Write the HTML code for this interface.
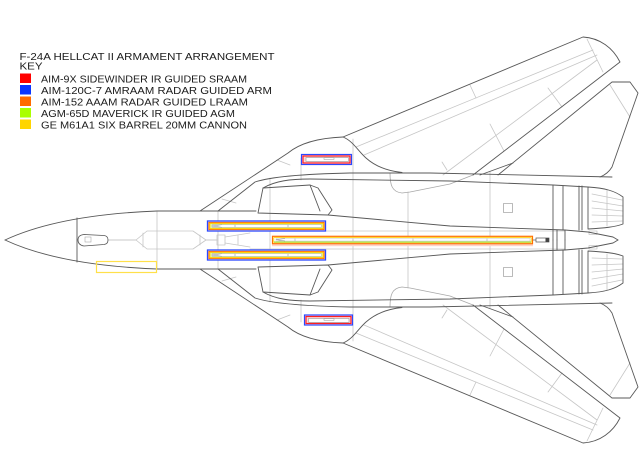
<!DOCTYPE html>
<html><head><meta charset="utf-8">
<style>
html,body{margin:0;padding:0;background:#fff;width:640px;height:454px;overflow:hidden}
svg{display:block}
text{font-family:"Liberation Sans",sans-serif;font-size:9.8px;fill:#1c1c1c}
</style></head>
<body>
<svg width="640" height="454" viewBox="0 0 640 454" xmlns="http://www.w3.org/2000/svg" xmlns:xlink="http://www.w3.org/1999/xlink">
<defs>
<g id="half" fill="none" stroke-linejoin="round" stroke-linecap="round">
  <!-- light panel lines -->
  <g stroke="#c6c6c6" stroke-width="0.8">
    <line x1="157" y1="211" x2="157" y2="240"/>
    <line x1="218" y1="211" x2="218" y2="240"/>
    <line x1="270" y1="178" x2="270" y2="240"/>
    <line x1="301" y1="158" x2="301" y2="180"/>
    <line x1="353" y1="139" x2="353" y2="240"/>
    <line x1="408" y1="192" x2="408" y2="240"/>
    <line x1="490" y1="172" x2="490" y2="240"/>
    <line x1="250" y1="231" x2="565" y2="231"/>
    <path d="M108,240 L136,240 L147,231 L193,231 L206,240 L217,240"/>
    <line x1="143" y1="233" x2="143" y2="240"/>
    <line x1="200" y1="235" x2="200" y2="240"/>
    <path d="M217,240 L217,235 L225,235 L225,240"/>
    <path d="M225,237 L250,233"/>
    <line x1="238" y1="235.5" x2="238" y2="240"/>
    <path d="M222,199 L236,203"/>
    <path d="M277,160 L290,165"/>
    <!-- wing panel lines -->
    <path d="M356,147 L593,50"/>
    <path d="M364,155 L597,55"/>
    <path d="M443,175 L597,60"/>
    <path d="M470,85 L476,98"/>
    <path d="M548,88 L562,107"/>
    <path d="M490,124 L504,151"/>
    <path d="M442,162 L447,170"/>
    <path d="M587,39 L603,72"/>
    <path d="M610,85 L630,117"/>
    <!-- nozzle inner lines -->
    <path d="M592,194 L622,200 M592,201 L623,206 M592,208 L623,211 M592,215 L623,216 M592,222 L622,221"/>
    <line x1="607" y1="190" x2="607" y2="226"/>
    <rect x="589" y="231" width="8" height="3.5"/>
  </g>
  <g stroke="#a8a8a8" stroke-width="0.8">
    <path d="M390,173 C390,185 392,192 402,193 L410,192 L450,184 L473,175"/>
    <rect x="503.5" y="203.5" width="9" height="9"/>
  </g>
  <!-- dark outlines -->
  <g stroke="#585858" stroke-width="0.9">
    <path d="M5,240 C35,226 80,214 157,211 L256,211"/>
    <line x1="77" y1="218" x2="77" y2="240"/>
    <path d="M200,211 L288,153 C300,143 318,138 343,137 C353,141 358,151 366,158 C376,167 388,171 402,172.5"/>
    <path d="M218,211 L255,182 C270,177 300,174 350,173 L430,173 L612,177"/>
    <path d="M263,188 C275,181 290,179 310,179 L450,181 L553,185 L588,187"/>
    <path d="M258,213 L263,188 L310,185 L318,188 L332,210 L328,215 Z"/>
    <path d="M310,185 L320,211"/>
    <path d="M328,215 L450,226 L565,230"/>
    <path d="M343,137 L583,37 C600,38 613,48 620,62 L473,175"/>
    <path d="M498,175 L612,82 L630,82 L638,93 L612,167 C609,172 605,175 600,177"/>
    <path d="M480,175 L513,163"/>
    <path d="M553,185 V240 M557,230 V240 M565,230 V240 M563,186 V230 M579,186 V230 M582,186 V230"/>
    <path d="M588,187 C605,188 615,191 623,197 L623,224 C615,227 605,228 588,229 Z"/>
    <path d="M565,230 L588,232 L613,237 L618,240"/>
  </g>
</g>
</defs>

<use xlink:href="#half" href="#half"/>
<use xlink:href="#half" href="#half" transform="translate(0,480) scale(1,-1)"/>

<!-- canopy -->
<g fill="none" stroke="#555" stroke-width="0.8">
  <path d="M84,234.5 L104,235.5 Q108,236 108,240 Q108,244 104,244.5 L84,246 Q78,245 78,240 Q78,235 84,234.5 Z"/>
  <rect x="85" y="237" width="6" height="5" stroke="#999" stroke-width="0.5"/>
</g>

<!-- cannon -->
<rect x="96.5" y="261.5" width="60" height="11" fill="none" stroke="#ffe04a" stroke-width="1.2"/>

<!-- upper wing missile -->
<rect x="301.5" y="154.5" width="50" height="10" fill="#fde" stroke="#2b48ff" stroke-width="1.2"/>
<rect x="303" y="156" width="47" height="7" fill="#fbd6da" stroke="#ff2020" stroke-width="1.2"/>
<rect x="306" y="157.6" width="42.5" height="3.8" fill="#fff" stroke="#999" stroke-width="0.6"/>
<rect x="324" y="157.6" width="10" height="1.8" fill="none" stroke="#999" stroke-width="0.5"/>

<!-- lower wing missile -->
<rect x="304.5" y="315" width="48" height="10" fill="#fde" stroke="#2b48ff" stroke-width="1.2"/>
<rect x="306" y="316.5" width="45" height="7" fill="#fbd6da" stroke="#ff2020" stroke-width="1.2"/>
<rect x="308.5" y="318.5" width="40.5" height="3.8" fill="#fff" stroke="#999" stroke-width="0.6"/>
<rect x="324" y="318.5" width="10" height="1.8" fill="none" stroke="#999" stroke-width="0.5"/>

<!-- inner pylons upper -->
<rect x="207.5" y="221" width="118" height="10" fill="#fff" stroke="#2b48ff" stroke-width="1.3"/>
<rect x="208.9" y="222.4" width="115.2" height="7.2" fill="none" stroke="#ff6a00" stroke-width="1"/>
<rect x="209.9" y="223.4" width="113.2" height="5.2" fill="#e6ffa6" stroke="#ffd000" stroke-width="1"/>
<rect x="212" y="224.7" width="109.5" height="2.6" fill="#fff" stroke="#aaa" stroke-width="0.5"/>
<path d="M212,226 L222,224.7 M212,226 L222,227.3" stroke="#888" stroke-width="0.5" fill="none"/>
<path d="M235,224.7 V227.3 M288,224.7 V227.3" stroke="#999" stroke-width="0.6"/>

<!-- inner pylons lower -->
<rect x="207.5" y="250" width="118" height="10" fill="#fff" stroke="#2b48ff" stroke-width="1.3"/>
<rect x="208.9" y="251.4" width="115.2" height="7.2" fill="none" stroke="#ff6a00" stroke-width="1"/>
<rect x="209.9" y="252.4" width="113.2" height="5.2" fill="#e6ffa6" stroke="#ffd000" stroke-width="1"/>
<rect x="212" y="253.7" width="109.5" height="2.6" fill="#fff" stroke="#aaa" stroke-width="0.5"/>
<path d="M212,255 L222,253.7 M212,255 L222,256.3" stroke="#888" stroke-width="0.5" fill="none"/>
<path d="M235,253.7 V256.3 M288,253.7 V256.3" stroke="#999" stroke-width="0.6"/>

<!-- center long missile -->
<rect x="272" y="243.6" width="261" height="2.6" fill="#fdd2c8"/>
<rect x="272.5" y="236.3" width="260" height="7.4" fill="#fff" stroke="#ff7000" stroke-width="1.2"/>
<rect x="273.8" y="237.6" width="257.4" height="4.8" fill="none" stroke="#ffd000" stroke-width="0.8"/>
<line x1="274" y1="242" x2="531" y2="242" stroke="#93d82c" stroke-width="0.9"/>
<rect x="276" y="238.5" width="254" height="2.5" fill="#fff" stroke="#bbb" stroke-width="0.4"/>
<path d="M276,239.7 L285,238.5 M276,239.7 L285,241" stroke="#888" stroke-width="0.5" fill="none"/>
<path d="M295,238.5 V241 M353,238.5 V241 M413,238.5 V241 M487,238.5 V241" stroke="#aaa" stroke-width="0.6"/>

<!-- gun -->
<line x1="533" y1="240" x2="536" y2="240" stroke="#555" stroke-width="0.7"/>
<rect x="536" y="238" width="13" height="4" fill="#fff" stroke="#555" stroke-width="0.7"/>
<rect x="545.5" y="238" width="3.5" height="4" fill="#444"/>

<!-- legend -->
<text x="19.5" y="60" textLength="255" lengthAdjust="spacingAndGlyphs">F-24A HELLCAT II ARMAMENT ARRANGEMENT</text>
<text x="19.5" y="69.5" textLength="23" lengthAdjust="spacingAndGlyphs">KEY</text>

<rect x="20" y="73.5" width="11" height="9.5" fill="#ff0000"/>
<rect x="20" y="85" width="11" height="9.5" fill="#0a35ff"/>
<rect x="20" y="96.5" width="11" height="9.5" fill="#ff6a00"/>
<rect x="20" y="108" width="11" height="9.5" fill="#aaff00"/>
<rect x="20" y="119.5" width="11" height="9.5" fill="#ffd500"/>

<text x="41" y="82.4" textLength="206" lengthAdjust="spacingAndGlyphs">AIM-9X SIDEWINDER IR GUIDED SRAAM</text>
<text x="41" y="93.9" textLength="231" lengthAdjust="spacingAndGlyphs">AIM-120C-7 AMRAAM RADAR GUIDED ARM</text>
<text x="41" y="105.3" textLength="207" lengthAdjust="spacingAndGlyphs">AIM-152 AAAM RADAR GUIDED LRAAM</text>
<text x="41" y="116.8" textLength="194" lengthAdjust="spacingAndGlyphs">AGM-65D MAVERICK IR GUIDED AGM</text>
<text x="41" y="128.3" textLength="206" lengthAdjust="spacingAndGlyphs">GE M61A1 SIX BARREL 20MM CANNON</text>
</svg>
</body></html>
